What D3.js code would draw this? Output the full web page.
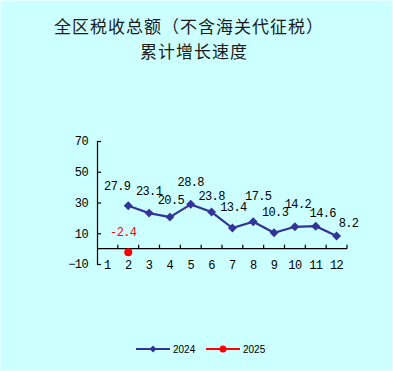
<!DOCTYPE html>
<html><head><meta charset="utf-8">
<script src="https://cdn.jsdelivr.net/npm/d3@7"></script>
<style>
html,body{margin:0;padding:0;background:#CCFFFF;}
svg{display:block;}
</style></head>
<body>
<script>
const months = ["1","2","3","4","5","6","7","8","9","10","11","12"];
const values2024 = [null,27.9,23.1,20.5,28.8,23.8,13.4,17.5,10.3,14.2,14.6,8.2];
const values2025 = [null,-2.4,null,null,null,null,null,null,null,null,null,null];
const yTicks = [-10,10,30,50,70];
const seriesNames = ["2024","2025"];
const titleLines = ["全区税收总额（不含海关代征税）","累计增长速度"];

// label placement nudges (layout only)
const nudge2024 = [[0,0],[-11,-19],[0,-21],[1,-16],[0,-21],[0,-15],[1,-20],[5,-25],[1,-20],[3,-22],[7,-12],[12,-12]];
const nudge2025 = [[0,0],[-5,-19]];

const W=393,H=371;
const svg=d3.select("body").append("svg").attr("width",W).attr("height",H);
svg.append("rect").attr("x",0.5).attr("y",0.5).attr("width",W-1).attr("height",H-1)
  .attr("fill","#CCFFFF").attr("stroke","#E6FFFF").attr("stroke-width",1);

const cjk = "'Noto Sans CJK SC','Noto Sans CJK JP',sans-serif";
const mono = "'Liberation Mono','DejaVu Sans Mono',monospace";
const numStyle = sel => sel.attr("font-family",mono).attr("font-size",12).attr("letter-spacing",-0.6);

svg.selectAll("text.title").data(titleLines).join("text").attr("class","title")
  .attr("text-anchor","middle").attr("font-family",cjk).attr("font-size",17).attr("letter-spacing",1)
  .attr("fill","#1a1a1a")
  .attr("x",(d,i)=>i===0?189:194).attr("y",(d,i)=>i===0?33:58).text(d=>d);

const x=d3.scaleBand().domain(months).range([97,347]).paddingInner(0).paddingOuter(0);
const y=d3.scaleLinear().domain([-10,70]).range([264,141]);
const cx=m=>x(m)+x.bandwidth()/2;

// y axis
const yAxis=d3.axisLeft(y).tickValues(yTicks).tickSizeInner(-4).tickSizeOuter(0).tickPadding(9).tickFormat(d3.format("d"));
const gy=svg.append("g").attr("transform","translate(97,0)").call(yAxis);
gy.select(".domain").attr("stroke","#000").attr("stroke-width",1.2);
gy.selectAll(".tick line").attr("stroke","#000").attr("stroke-width",1.2);
gy.selectAll(".tick text").call(numStyle).attr("fill","#000")
  .text(d=>d<0?"\u2212"+Math.abs(d):d);

// zero line with ticks at category boundaries
const y0=y(0);
svg.append("line").attr("x1",97).attr("x2",347).attr("y1",y0).attr("y2",y0).attr("stroke","#000").attr("stroke-width",1.2);
svg.selectAll("line.xt").data(months).join("line").attr("class","xt")
  .attr("x1",d=>x(d)+x.bandwidth()).attr("x2",d=>x(d)+x.bandwidth())
  .attr("y1",y0).attr("y2",y0-4).attr("stroke","#000").attr("stroke-width",1.2);
// category labels at bottom
svg.selectAll("text.xl").data(months).join("text").attr("class","xl")
  .attr("x",d=>cx(d)).attr("y",y(-10)+2).attr("dominant-baseline","central")
  .attr("text-anchor","middle").call(numStyle).attr("fill","#000").text(d=>d);

// 2024 series
const pts24=months.map((m,i)=>({m,v:values2024[i],n:nudge2024[i]})).filter(d=>d.v!==null);
const line=d3.line().x(d=>cx(d.m)).y(d=>y(d.v));
svg.append("path").datum(pts24).attr("d",line).attr("fill","none").attr("stroke","#333399").attr("stroke-width",2.2);
const diamond=d3.symbol().type(d3.symbolSquare).size(40);
svg.selectAll("path.dm").data(pts24).join("path").attr("class","dm")
  .attr("d",diamond).attr("transform",d=>`translate(${cx(d.m)},${y(d.v)}) rotate(45)`)
  .attr("fill","#333399");
svg.selectAll("text.l24").data(pts24).join("text").attr("class","l24")
  .attr("x",d=>cx(d.m)+d.n[0]).attr("y",d=>y(d.v)+d.n[1]).attr("dominant-baseline","central")
  .attr("text-anchor","middle").call(numStyle).attr("fill","#000")
  .text(d=>d.v.toFixed(1));

// 2025 series
const pts25=months.map((m,i)=>({m,v:values2025[i],n:nudge2025[i]})).filter(d=>d.v!==null&&d.v!==undefined);
svg.selectAll("circle.p25").data(pts25).join("circle").attr("class","p25")
  .attr("cx",d=>cx(d.m)).attr("cy",d=>y(d.v)).attr("r",4).attr("fill","#FF0000");
svg.selectAll("text.l25").data(pts25).join("text").attr("class","l25")
  .attr("x",d=>cx(d.m)+d.n[0]).attr("y",d=>y(d.v)+d.n[1]).attr("dominant-baseline","central")
  .attr("text-anchor","middle").call(numStyle).attr("fill","#FF0000")
  .text(d=>d.v.toFixed(1));

// legend
const lg=svg.append("g");
const legX=[136,206], ly=349, colors=["#333399","#FF0000"];
seriesNames.forEach((s,i)=>{
  const g=lg.append("g");
  g.append("line").attr("x1",legX[i]).attr("x2",legX[i]+34).attr("y1",ly).attr("y2",ly).attr("stroke",colors[i]).attr("stroke-width",2);
  if(i===0){
    g.append("path").attr("d",d3.symbol().type(d3.symbolSquare).size(24)).attr("transform",`translate(${legX[i]+17},${ly}) rotate(45)`).attr("fill",colors[i]);
  } else {
    g.append("circle").attr("cx",legX[i]+17).attr("cy",ly).attr("r",3.5).attr("fill",colors[i]);
  }
  g.append("text").attr("x",legX[i]+37).attr("y",ly).attr("dominant-baseline","central")
    .attr("font-family","'Liberation Sans',Arial,sans-serif").attr("font-size",10).attr("fill","#000").text(s);
});
</script>
</body></html>
